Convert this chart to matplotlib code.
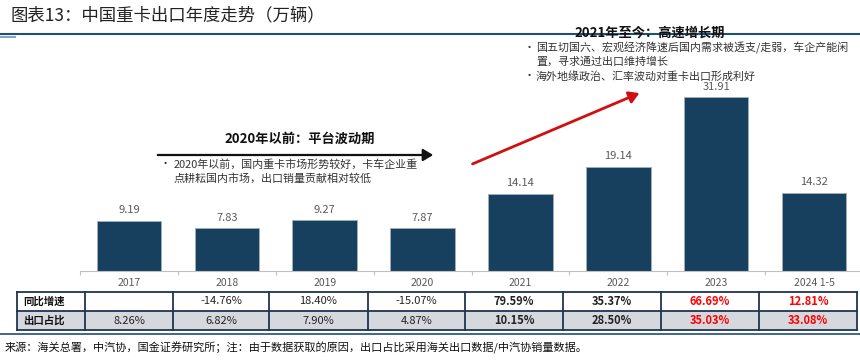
import matplotlib.pyplot as plt
from matplotlib.patches import Rectangle, FancyArrowPatch
from matplotlib.lines import Line2D

plt.rcParams['font.family'] = ['Noto Sans CJK SC', 'DejaVu Sans']

# 数据
years = ['2017', '2018', '2019', '2020', '2021', '2022', '2023', '2024 1-5']
exports = [9.19, 7.83, 9.27, 7.87, 14.14, 19.14, 31.91, 14.32]
yoy = ['', '-14.76%', '18.40%', '-15.07%', '79.59%', '35.37%', '66.69%', '12.81%']
share = ['8.26%', '6.82%', '7.90%', '4.87%', '10.15%', '28.50%', '35.03%', '33.08%']
row_names = ['同比增速', '出口占比']

W, H = 860, 361
fig = plt.figure(figsize=(W / 100, H / 100), dpi=100)


def fx(x):
    return x / W


def fy(y):
    return 1 - y / H


navy = '#17405f'
grey_txt = '#595959'

# 柱状图
ax = fig.add_axes([fx(80), fy(271), 783 / W, 230 / H])
pos = range(len(years))
ax.bar(pos, exports, width=0.66, color=navy, edgecolor='#9fb0c0', linewidth=0.6)
for i, v in enumerate(exports):
    ax.annotate(f'{v:.2f}', (i, v), xytext=(0, 4), textcoords='offset points',
                ha='center', va='bottom', fontsize=8, color=grey_txt)
ax.set_xlim(-0.5, len(years) - 0.5)
ax.set_ylim(0, 230 / 5.45)
for s in ['top', 'right', 'left']:
    ax.spines[s].set_visible(False)
ax.spines['bottom'].set_color('#bfbfbf')
ax.set_yticks([])
ax.set_xticks([i - 0.5 for i in range(len(years) + 1)])
ax.set_xticklabels([])
ax.tick_params(axis='x', length=3, color='#bfbfbf', direction='out')
for i, y in enumerate(years):
    ax.text(i, -0.052, y, transform=ax.get_xaxis_transform(), ha='center', va='center',
            fontsize=7.5, color=grey_txt)

# 标题
fig.text(fx(10), fy(15), '图表13：中国重卡出口年度走势（万辆）', fontsize=12.5, color='#222222',
         va='center', ha='left', style='italic')
fig.add_artist(Line2D([0, 1], [fy(34), fy(34)], color='#1f4e79', lw=1.5))
fig.add_artist(Line2D([0, fx(15)], [fy(36.5), fy(36.5)], color='#7fa7c9', lw=1.5))

# 注释
fig.text(fx(650), fy(33), '2021年至今：高速增长期', fontsize=9.5, fontweight='bold',
         ha='center', va='center', color='#111111')
bul1 = ['国五切国六、宏观经济降速后国内需求被透支/走弱，车企产能闲',
        '置，寻求通过出口维持增长']
fig.text(fx(524), fy(48), '•', fontsize=8, ha='left', va='center', color='#333333')
fig.text(fx(536), fy(48), bul1[0], fontsize=7.9, ha='left', va='center', color='#333333')
fig.text(fx(536), fy(62), bul1[1], fontsize=7.9, ha='left', va='center', color='#333333')
fig.text(fx(524), fy(76), '•', fontsize=8, ha='left', va='center', color='#333333')
fig.text(fx(536), fy(76), '海外地缘政治、汇率波动对重卡出口形成利好', fontsize=7.9,
         ha='left', va='center', color='#333333')

fig.text(fx(300), fy(139), '2020年以前：平台波动期', fontsize=9.5, fontweight='bold',
         ha='center', va='center', color='#111111')
fig.text(fx(160), fy(164), '•', fontsize=8, ha='left', va='center', color='#333333')
fig.text(fx(174), fy(164), '2020年以前，国内重卡市场形势较好，卡车企业重', fontsize=7.9,
         ha='left', va='center', color='#333333')
fig.text(fx(174), fy(178), '点耕耘国内市场，出口销量贡献相对较低', fontsize=7.9,
         ha='left', va='center', color='#333333')

fig.add_artist(FancyArrowPatch((fx(155), fy(155)), (fx(436), fy(155)),
                               transform=fig.transFigure, arrowstyle='-|>,head_length=5,head_width=3',
                               color='#111111', lw=1.6, mutation_scale=1.2))
fig.add_artist(FancyArrowPatch((fx(470), fy(165)), (fx(642), fy(92)),
                               transform=fig.transFigure, arrowstyle='-|>,head_length=5,head_width=3',
                               color='#d01010', lw=2, mutation_scale=1.2))

# 表格
edges = [17, 85, 173, 269, 368, 465, 563, 661, 759, 857]
rows_y = [292, 311, 330]
fig.add_artist(Rectangle((fx(17), fy(330)), fx(857 - 17), (330 - 311) / H,
                         transform=fig.transFigure, facecolor='#d5d9de', edgecolor='none'))
border = '#1f3550'
for y in rows_y:
    fig.add_artist(Line2D([fx(17), fx(857)], [fy(y), fy(y)], color=border, lw=1.3))
for x in edges:
    fig.add_artist(Line2D([fx(x), fx(x)], [fy(292), fy(330)], color=border, lw=1.3))

for r, (name, vals) in enumerate(zip(row_names, [yoy, share])):
    yc = (rows_y[r] + rows_y[r + 1]) / 2
    fig.text(fx(23), fy(yc), name, fontsize=7.5, fontweight='bold', ha='left', va='center',
             color='#111111')
    for i, v in enumerate(vals):
        xc = (edges[i + 1] + edges[i + 2]) / 2
        red = i >= 6
        bold = i >= 4
        fig.text(fx(xc), fy(yc), v, fontsize=8, ha='center', va='center',
                 fontweight='bold' if bold else 'normal',
                 color='#ff0000' if red else '#222222')

# 来源
fig.add_artist(Line2D([0, 1], [fy(334), fy(334)], color='#1f4e79', lw=1.2))
fig.text(fx(5), fy(348), '来源：海关总署，中汽协，国金证券研究所；注：由于数据获取的原因，出口占比采用海关出口数据/中汽协销量数据。',
         fontsize=8, ha='left', va='center', color='#111111')

fig.savefig('out.png', dpi=100)
